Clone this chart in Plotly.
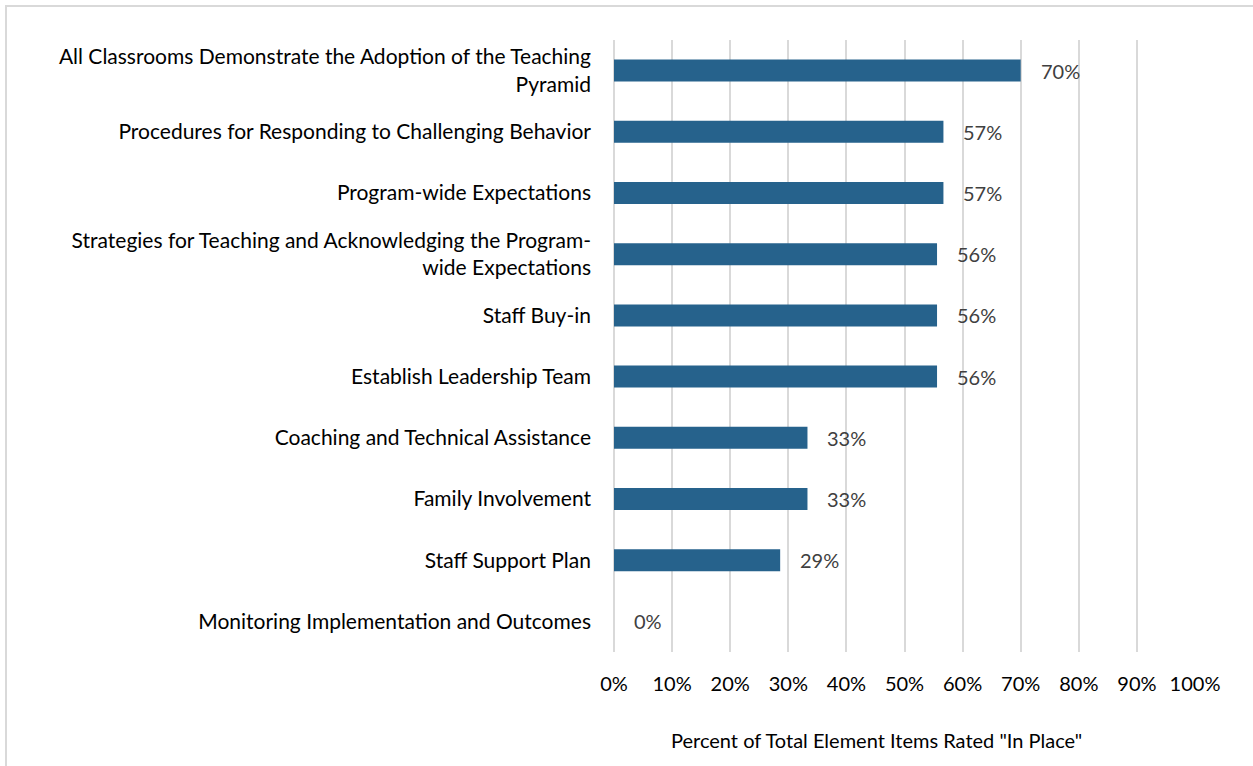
import plotly.graph_objects as go

# categories listed top to bottom, as in the report
categories = [
    "All Classrooms Demonstrate the Adoption of the Teaching<br>Pyramid",
    "Procedures for Responding to Challenging Behavior",
    "Program-wide Expectations",
    "Strategies for Teaching and Acknowledging the Program-<br>wide Expectations",
    "Staff Buy-in",
    "Establish Leadership Team",
    "Coaching and Technical Assistance",
    "Family Involvement",
    "Staff Support Plan",
    "Monitoring Implementation and Outcomes",
]
in_place = [0.70, 0.567, 0.567, 0.556, 0.556, 0.556, 0.333, 0.333, 0.286, 0.0]
x_ticks = [i / 10 for i in range(11)]
x_ticklabels = [f"{i * 10}%" for i in range(11)]
axis_title = 'Percent of Total Element Items Rated "In Place"'

BAR = "#26628c"
GRID = "#d9d9d9"
FONT = "Lato, Open Sans, sans-serif"

W, H = 1253, 766
L, R, T, B = 614, 58, 40, 114
pw, ph = W - L - R, H - T - B

fig = go.Figure()
fig.add_trace(go.Bar(
    x=in_place,
    y=categories,
    orientation="h",
    width=0.36,
    marker=dict(color=BAR, line=dict(width=0)),
    hoverinfo="x+y",
))

# data labels sit a little to the right of each bar
for cat, v in zip(categories, in_place):
    fig.add_annotation(
        x=v, y=cat, xref="x", yref="y",
        text=f"{v:.0%}", showarrow=False,
        xanchor="left", xshift=18,
        font=dict(family=FONT, size=20, color="#404040"),
    )

fig.add_annotation(
    x=(876 - L) / pw, y=(H - B - 740) / ph,
    xref="paper", yref="paper", xanchor="center", yanchor="middle",
    text=axis_title, showarrow=False,
    font=dict(family=FONT, size=20, color="#000000"),
)

# outer chart border (only top and left edges fall inside the frame)
fig.add_shape(
    type="rect", xref="paper", yref="paper", layer="below",
    x0=(6 - L) / pw, x1=(W + 20 - L) / pw,
    y0=(H - B - (H + 20)) / ph, y1=(H - B - 6) / ph,
    line=dict(color="#d9d9d9", width=2), fillcolor="rgba(0,0,0,0)",
)

fig.update_layout(
    width=W, height=H,
    margin=dict(l=L, r=R, t=T, b=B),
    paper_bgcolor="white", plot_bgcolor="white",
    showlegend=False,
    font=dict(family=FONT, size=21, color="#000000"),
    xaxis=dict(
        range=[0, 1], tickvals=x_ticks, ticktext=x_ticklabels,
        showgrid=True, gridcolor=GRID, gridwidth=1.5,
        zeroline=True, zerolinecolor=GRID, zerolinewidth=1.5,
        showline=False, ticks="", ticklabelstandoff=18,
        tickfont=dict(family=FONT, size=20, color="#000000"),
        fixedrange=True,
    ),
    yaxis=dict(
        autorange="reversed", showgrid=False, zeroline=False,
        showline=False, ticks="", ticklabelstandoff=22,
        tickfont=dict(family=FONT, size=21, color="#000000"),
        fixedrange=True,
    ),
)

fig.write_html(
    "out.html",
    config={"displayModeBar": False},
    post_script="document.body.style.margin='0';",
)
